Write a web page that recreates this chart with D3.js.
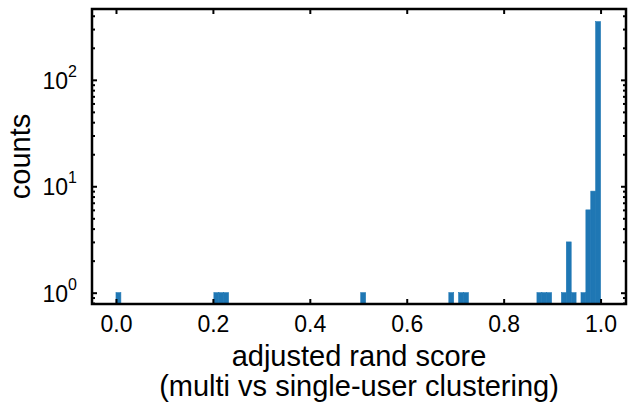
<!DOCTYPE html>
<html>
<head>
<meta charset="utf-8">
<script src="https://cdn.jsdelivr.net/npm/d3@7"></script>
<style>
  body { margin: 0; background: #fff; }
  text { font-family: "Liberation Sans", Arial, sans-serif; fill: #000; }
</style>
</head>
<body>
<div id="chart"></div>
<script>
// histogram: 99 bins over [0, 1], only non-empty bins listed
var xMin = 0.0, xMax = 1.0, nBins = 99;
var binIndex = [0, 20, 21, 22, 50, 68, 70, 71, 86, 87, 88, 91, 92, 93, 95, 96, 97, 98];
var binCount = [1, 1, 1, 1, 1, 1, 1, 1, 1, 1, 1, 1, 3, 1, 1, 6, 9, 352];
var xTicks = [0.0, 0.2, 0.4, 0.6, 0.8, 1.0];
var yMajor = [1, 10, 100];
var xLabel = ["adjusted rand score", "(multi vs single-user clustering)"];
var yLabel = "counts";

var W = 633, H = 407;
var margin = {top: 9, right: 7, bottom: 103, left: 92},
    width = W - margin.left - margin.right,
    height = H - margin.top - margin.bottom;

var binW = (xMax - xMin) / nBins;
var bins = binIndex.map(function(b, i) {
    return {x0: xMin + b * binW, x1: xMin + (b + 1) * binW, n: binCount[i]};
});

var svg = d3.select("#chart").append("svg")
    .attr("width", W)
    .attr("height", H)
    .append("g")
    .attr("transform", "translate(" + margin.left + "," + margin.top + ")");

var x = d3.scaleLinear()
    .domain([-0.0495, 1.0525])
    .range([0, width]);

var y = d3.scaleLog()
    .domain([0.783, 463])
    .range([height, 0]);

svg.append("defs").append("clipPath").attr("id", "clip")
    .append("rect").attr("width", width).attr("height", height);

svg.append("g")
    .attr("clip-path", "url(#clip)")
    .selectAll("rect")
    .data(bins)
    .enter().append("rect")
        .attr("x", function(d) { return x(d.x0); })
        .attr("width", function(d) { return x(d.x1) - x(d.x0); })
        .attr("y", function(d) { return y(d.n); })
        .attr("height", function(d) { return height - y(d.n); })
        .attr("fill", "#1f77b4")
        .attr("stroke", "#1f77b4")
        .attr("stroke-width", 0.6);

// minor log ticks
var yMinor = y.ticks().filter(function(t) { return yMajor.indexOf(t) < 0; });

//********** AXES ************
var xAxis = d3.axisBottom(x).tickValues(xTicks).tickSize(-5).tickPadding(12)
    .tickFormat(d3.format(".1f"));
var xAxisTop = d3.axisTop(x).tickValues(xTicks).tickSize(-5).tickFormat("");

svg.append("g").attr("class", "ax")
    .attr("transform", "translate(0," + height + ")")
    .call(xAxis);
svg.append("g").attr("class", "ax")
    .call(xAxisTop);

svg.append("g").attr("class", "ax")
    .call(d3.axisLeft(y).tickValues(yMajor).tickSize(-5).tickFormat(""));
svg.append("g").attr("class", "ax")
    .call(d3.axisLeft(y).tickValues(yMinor).tickSize(-3).tickFormat(""));
svg.append("g").attr("class", "ax")
    .attr("transform", "translate(" + width + ",0)")
    .call(d3.axisRight(y).tickValues(yMajor).tickSize(-5).tickFormat(""));
svg.append("g").attr("class", "ax")
    .attr("transform", "translate(" + width + ",0)")
    .call(d3.axisRight(y).tickValues(yMinor).tickSize(-3).tickFormat(""));

svg.selectAll(".ax .domain").remove();
svg.selectAll(".ax line").attr("stroke", "#000").attr("stroke-width", 2);
svg.selectAll(".ax text").style("font-size", "23px").style("font-family", "Liberation Sans, Arial, sans-serif");

// y labels 10^n
var yl = svg.append("g").selectAll("text")
    .data(yMajor)
    .enter().append("text")
        .attr("x", -15)
        .attr("y", function(d) { return y(d) + 9; })
        .attr("text-anchor", "end")
        .style("font-size", "23px");
yl.append("tspan").text("10");
yl.append("tspan")
    .attr("dy", -12)
    .style("font-size", "16px")
    .text(function(d) { return Math.round(Math.log10(d)); });

svg.append("rect")
    .attr("width", width)
    .attr("height", height)
    .attr("fill", "none")
    .attr("stroke", "#000")
    .attr("stroke-width", 2.5);

svg.append("text")
    .attr("transform", "translate(" + (-62) + "," + (height / 2) + ") rotate(-90)")
    .attr("text-anchor", "middle")
    .style("font-size", "29px")
    .text(yLabel);

svg.append("g").selectAll("text")
    .data(xLabel)
    .enter().append("text")
        .attr("x", width / 2)
        .attr("y", function(d, i) { return height + 62 + i * 30; })
        .attr("text-anchor", "middle")
        .style("font-size", "29px")
        .text(function(d) { return d; });
</script>
</body>
</html>
